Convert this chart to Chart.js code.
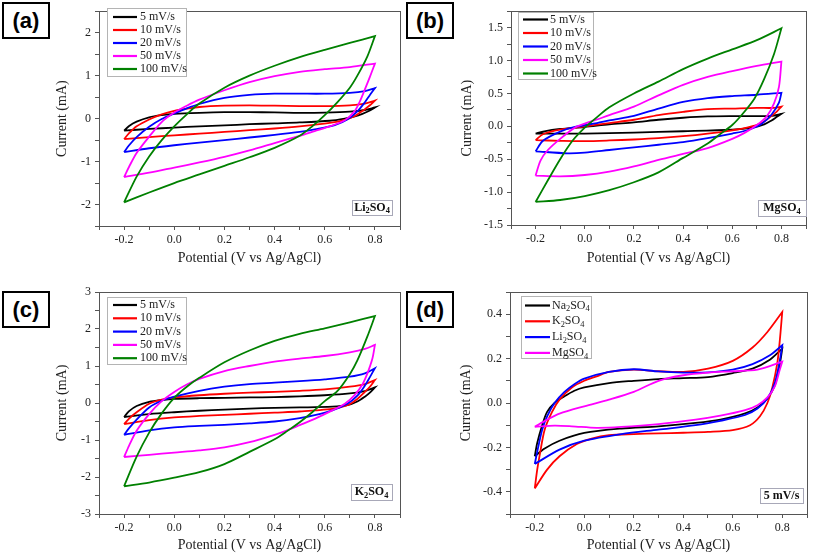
<!DOCTYPE html>
<html>
<head>
<meta charset="utf-8">
<script src="https://cdn.jsdelivr.net/npm/chart.js@4.4.1/dist/chart.umd.min.js"></script>
<style>
  body { margin: 0; background: #fff; }
  #page { position: relative; width: 813px; height: 557px; overflow: hidden; }
  .panel { position: absolute; }
  .tag {
    position: absolute; width: 44px; height: 33px; border: 2px solid #000; background: #fff;
    font: bold 22px 'Liberation Sans', Arial, sans-serif; text-align: center; line-height: 33px;
  }
</style>
</head>
<body>
<div id="page">
  <div class="panel" style="left:0;top:0"><canvas id="chartA" width="406" height="278"></canvas></div>
  <div class="panel" style="left:406px;top:0"><canvas id="chartB" width="407" height="278"></canvas></div>
  <div class="panel" style="left:0;top:278px"><canvas id="chartC" width="406" height="279"></canvas></div>
  <div class="panel" style="left:406px;top:278px"><canvas id="chartD" width="407" height="279"></canvas></div>
  <div class="tag" style="left:2px;top:2px">(a)</div>
  <div class="tag" style="left:406px;top:2px">(b)</div>
  <div class="tag" style="left:2px;top:291px">(c)</div>
  <div class="tag" style="left:406px;top:291px">(d)</div>
</div>
<script>
'use strict';

// labels
let scanRates = ['5 mV/s', '10 mV/s', '20 mV/s', '50 mV/s', '100 mV/s'];
let electrolytes = ['Na_2SO_4', 'K_2SO_4', 'Li_2SO_4', 'MgSO_4'];
let seriesColors = ['#000000', '#ff0000', '#0000ff', '#ff00ff', '#008000'];
let xTitle = 'Potential (V vs Ag/AgCl)';
let yTitle = 'Current (mA)';

// (a) Li2SO4 - [potential V, current mA], anodic sweep then cathodic sweep
let li5 = [[-0.2,-0.28],[-0.18,-0.17],[-0.15,-0.07],[-0.1,0.03],[-0.05,0.08],[0.0,0.11],[0.1,0.135],[0.2,0.15],[0.3,0.15],[0.4,0.145],[0.5,0.135],[0.6,0.14],[0.7,0.16],[0.76,0.2],[0.8,0.26],
  [0.8,0.26],[0.78,0.19],[0.75,0.11],[0.72,0.05],[0.68,0.0],[0.62,-0.05],[0.5,-0.09],[0.4,-0.11],[0.3,-0.13],[0.2,-0.16],[0.1,-0.18],[0.0,-0.21],[-0.1,-0.24],[-0.2,-0.28]];
let li10 = [[-0.2,-0.48],[-0.18,-0.34],[-0.15,-0.18],[-0.1,-0.02],[-0.05,0.1],[0.0,0.18],[0.05,0.23],[0.1,0.27],[0.2,0.3],[0.3,0.31],[0.4,0.3],[0.5,0.29],[0.6,0.29],[0.7,0.31],[0.76,0.35],[0.8,0.42],
  [0.8,0.42],[0.78,0.31],[0.76,0.22],[0.72,0.06],[0.68,-0.03],[0.62,-0.1],[0.5,-0.18],[0.4,-0.23],[0.3,-0.27],[0.2,-0.31],[0.1,-0.35],[0.0,-0.39],[-0.1,-0.43],[-0.2,-0.48]];
let li20 = [[-0.2,-0.78],[-0.18,-0.62],[-0.15,-0.43],[-0.1,-0.19],[-0.05,-0.01],[0.0,0.12],[0.05,0.24],[0.1,0.34],[0.2,0.48],[0.3,0.55],[0.4,0.58],[0.5,0.58],[0.6,0.58],[0.7,0.6],[0.76,0.64],[0.8,0.71],
  [0.8,0.71],[0.78,0.55],[0.76,0.38],[0.73,0.17],[0.69,-0.02],[0.64,-0.15],[0.56,-0.25],[0.5,-0.31],[0.4,-0.38],[0.3,-0.44],[0.2,-0.5],[0.1,-0.56],[0.0,-0.62],[-0.1,-0.69],[-0.2,-0.78]];
let li50 = [[-0.2,-1.36],[-0.18,-1.12],[-0.15,-0.8],[-0.1,-0.42],[-0.05,-0.08],[0.0,0.14],[0.05,0.3],[0.1,0.44],[0.2,0.66],[0.3,0.85],[0.4,0.99],[0.5,1.09],[0.6,1.15],[0.7,1.2],[0.8,1.28],
  [0.8,1.28],[0.78,0.97],[0.76,0.68],[0.74,0.4],[0.72,0.18],[0.68,-0.04],[0.62,-0.18],[0.56,-0.29],[0.5,-0.4],[0.4,-0.57],[0.3,-0.74],[0.2,-0.89],[0.1,-1.02],[0.0,-1.14],[-0.1,-1.26],[-0.2,-1.36]];
let li100 = [[-0.2,-1.95],[-0.15,-1.35],[-0.1,-0.88],[-0.05,-0.5],[0.0,-0.18],[0.05,0.1],[0.1,0.35],[0.2,0.72],[0.3,1.0],[0.4,1.23],[0.5,1.43],[0.6,1.6],[0.7,1.76],[0.8,1.92],
  [0.8,1.92],[0.77,1.45],[0.73,1.0],[0.7,0.72],[0.65,0.38],[0.6,0.08],[0.55,-0.18],[0.5,-0.4],[0.4,-0.68],[0.3,-0.9],[0.2,-1.1],[0.1,-1.3],[0.0,-1.5],[-0.1,-1.72],[-0.2,-1.95]];

// (b) MgSO4
let mg5 = [[-0.2,-0.11],[-0.17,-0.08],[-0.1,-0.04],[0.0,-0.01],[0.1,0.03],[0.2,0.06],[0.3,0.1],[0.4,0.13],[0.5,0.15],[0.6,0.155],[0.7,0.155],[0.76,0.16],[0.8,0.19],
  [0.8,0.19],[0.78,0.14],[0.76,0.09],[0.73,0.03],[0.68,-0.02],[0.6,-0.05],[0.4,-0.075],[0.2,-0.095],[0.0,-0.11],[-0.1,-0.11],[-0.2,-0.11]];
let mg10 = [[-0.2,-0.21],[-0.17,-0.12],[-0.1,-0.05],[0.0,0.0],[0.1,0.05],[0.2,0.1],[0.3,0.17],[0.4,0.22],[0.5,0.26],[0.6,0.27],[0.7,0.28],[0.77,0.28],[0.8,0.3],
  [0.8,0.3],[0.78,0.22],[0.75,0.13],[0.72,0.05],[0.66,-0.02],[0.6,-0.06],[0.5,-0.11],[0.4,-0.15],[0.3,-0.18],[0.2,-0.2],[0.1,-0.215],[0.0,-0.225],[-0.1,-0.22],[-0.2,-0.21]];
let mg20 = [[-0.2,-0.38],[-0.17,-0.22],[-0.1,-0.08],[-0.04,-0.01],[0.05,0.05],[0.1,0.09],[0.2,0.16],[0.3,0.27],[0.4,0.37],[0.5,0.43],[0.6,0.46],[0.7,0.48],[0.8,0.51],
  [0.8,0.51],[0.79,0.36],[0.76,0.18],[0.72,0.04],[0.66,-0.06],[0.6,-0.11],[0.5,-0.18],[0.4,-0.24],[0.3,-0.28],[0.2,-0.32],[0.1,-0.36],[0.0,-0.4],[-0.07,-0.41],[-0.2,-0.38]];
let mg50 = [[-0.2,-0.75],[-0.18,-0.52],[-0.15,-0.36],[-0.1,-0.19],[-0.04,-0.02],[0.0,0.04],[0.07,0.13],[0.1,0.17],[0.2,0.3],[0.3,0.47],[0.4,0.63],[0.5,0.75],[0.6,0.84],[0.7,0.92],[0.8,0.985],
  [0.8,0.985],[0.79,0.6],[0.77,0.35],[0.74,0.15],[0.7,0.02],[0.65,-0.1],[0.6,-0.19],[0.5,-0.33],[0.4,-0.42],[0.3,-0.51],[0.2,-0.61],[0.1,-0.69],[0.0,-0.74],[-0.1,-0.76],[-0.2,-0.75]];
let mg100 = [[-0.2,-1.15],[-0.15,-0.82],[-0.1,-0.5],[-0.05,-0.22],[0.0,-0.02],[0.05,0.14],[0.1,0.29],[0.2,0.5],[0.3,0.68],[0.4,0.87],[0.5,1.03],[0.6,1.17],[0.7,1.31],[0.8,1.49],
  [0.8,1.49],[0.77,1.1],[0.73,0.72],[0.69,0.42],[0.64,0.18],[0.6,0.02],[0.55,-0.12],[0.5,-0.26],[0.4,-0.48],[0.3,-0.7],[0.2,-0.85],[0.1,-0.97],[0.0,-1.06],[-0.1,-1.12],[-0.2,-1.15]];

// (c) K2SO4
let k5 = [[-0.2,-0.38],[-0.18,-0.22],[-0.15,-0.08],[-0.1,0.03],[-0.05,0.08],[0.0,0.11],[0.1,0.13],[0.2,0.14],[0.3,0.15],[0.4,0.16],[0.5,0.18],[0.6,0.21],[0.7,0.26],[0.76,0.32],[0.8,0.42],
  [0.8,0.42],[0.78,0.28],[0.76,0.17],[0.73,0.04],[0.69,-0.06],[0.63,-0.1],[0.5,-0.12],[0.4,-0.13],[0.3,-0.15],[0.2,-0.18],[0.1,-0.21],[0.0,-0.25],[-0.1,-0.3],[-0.2,-0.38]];
let k10 = [[-0.2,-0.57],[-0.18,-0.42],[-0.15,-0.25],[-0.1,-0.02],[-0.05,0.09],[0.0,0.15],[0.1,0.21],[0.2,0.25],[0.3,0.28],[0.4,0.3],[0.5,0.33],[0.6,0.37],[0.7,0.44],[0.76,0.51],[0.8,0.62],
  [0.8,0.62],[0.78,0.44],[0.76,0.3],[0.73,0.11],[0.69,-0.06],[0.63,-0.16],[0.56,-0.2],[0.5,-0.23],[0.4,-0.26],[0.3,-0.29],[0.2,-0.32],[0.1,-0.35],[0.0,-0.39],[-0.1,-0.46],[-0.2,-0.57]];
let k20 = [[-0.2,-0.86],[-0.18,-0.68],[-0.15,-0.45],[-0.1,-0.12],[-0.05,0.06],[0.0,0.17],[0.1,0.33],[0.2,0.44],[0.3,0.51],[0.4,0.55],[0.5,0.59],[0.6,0.64],[0.7,0.71],[0.76,0.8],[0.8,0.94],
  [0.8,0.94],[0.78,0.7],[0.76,0.47],[0.73,0.2],[0.69,-0.02],[0.63,-0.2],[0.56,-0.33],[0.5,-0.41],[0.4,-0.5],[0.3,-0.55],[0.2,-0.59],[0.1,-0.62],[0.0,-0.66],[-0.1,-0.74],[-0.2,-0.86]];
let k50 = [[-0.2,-1.46],[-0.18,-1.15],[-0.15,-0.75],[-0.1,-0.3],[-0.05,0.05],[0.0,0.3],[0.05,0.5],[0.1,0.65],[0.2,0.86],[0.3,1.0],[0.4,1.12],[0.5,1.2],[0.6,1.27],[0.7,1.37],[0.76,1.46],[0.8,1.57],
  [0.8,1.57],[0.79,1.2],[0.77,0.8],[0.75,0.5],[0.72,0.22],[0.68,-0.02],[0.63,-0.2],[0.56,-0.43],[0.5,-0.6],[0.45,-0.74],[0.4,-0.86],[0.3,-1.06],[0.2,-1.2],[0.1,-1.28],[0.0,-1.34],[-0.1,-1.4],[-0.2,-1.46]];
let k100 = [[-0.2,-2.25],[-0.15,-1.45],[-0.1,-0.8],[-0.05,-0.28],[0.0,0.14],[0.05,0.44],[0.1,0.68],[0.2,1.1],[0.3,1.42],[0.4,1.68],[0.5,1.87],[0.6,2.02],[0.7,2.18],[0.8,2.35],
  [0.8,2.35],[0.77,1.8],[0.73,1.15],[0.7,0.78],[0.65,0.32],[0.6,0.05],[0.55,-0.25],[0.5,-0.52],[0.45,-0.76],[0.4,-0.98],[0.3,-1.32],[0.2,-1.65],[0.1,-1.87],[0.0,-2.02],[-0.1,-2.15],[-0.2,-2.25]];

// (d) all electrolytes at 5 mV/s
let na5mv = [[-0.2,-0.24],[-0.19,-0.18],[-0.17,-0.1],[-0.15,-0.04],[-0.12,0.0],[-0.08,0.03],[-0.04,0.055],[0.0,0.07],[0.1,0.09],[0.2,0.1],[0.3,0.108],[0.4,0.112],[0.5,0.117],[0.6,0.135],[0.68,0.155],[0.75,0.195],[0.8,0.245],
  [0.8,0.245],[0.79,0.175],[0.77,0.08],[0.74,0.02],[0.7,-0.02],[0.65,-0.047],[0.55,-0.075],[0.45,-0.09],[0.3,-0.105],[0.15,-0.115],[0.0,-0.135],[-0.1,-0.17],[-0.16,-0.205],[-0.2,-0.24]];
let k5mv = [[-0.2,-0.385],[-0.19,-0.3],[-0.18,-0.235],[-0.16,-0.12],[-0.13,-0.04],[-0.1,0.015],[-0.05,0.07],[0.0,0.1],[0.05,0.12],[0.1,0.14],[0.2,0.15],[0.3,0.143],[0.4,0.14],[0.5,0.155],[0.6,0.19],[0.68,0.25],[0.74,0.32],[0.8,0.41],
  [0.8,0.41],[0.79,0.28],[0.78,0.18],[0.76,0.07],[0.74,0.0],[0.71,-0.06],[0.67,-0.1],[0.6,-0.122],[0.5,-0.13],[0.4,-0.134],[0.3,-0.137],[0.2,-0.14],[0.1,-0.145],[0.03,-0.16],[-0.03,-0.185],[-0.1,-0.24],[-0.15,-0.3],[-0.2,-0.385]];
let li5mv = [[-0.2,-0.275],[-0.19,-0.22],[-0.17,-0.12],[-0.15,-0.06],[-0.12,0.0],[-0.08,0.05],[-0.04,0.085],[0.0,0.11],[0.1,0.14],[0.2,0.152],[0.3,0.142],[0.4,0.137],[0.5,0.138],[0.6,0.15],[0.68,0.175],[0.75,0.215],[0.8,0.26],
  [0.8,0.26],[0.79,0.19],[0.77,0.09],[0.74,0.02],[0.7,-0.025],[0.65,-0.054],[0.55,-0.08],[0.45,-0.1],[0.3,-0.12],[0.15,-0.14],[0.0,-0.17],[-0.1,-0.21],[-0.2,-0.275]];
let mg5mv = [[-0.2,-0.107],[-0.15,-0.075],[-0.1,-0.048],[0.0,-0.015],[0.1,0.015],[0.2,0.05],[0.3,0.1],[0.4,0.125],[0.5,0.137],[0.6,0.143],[0.7,0.15],[0.8,0.186],
  [0.8,0.186],[0.79,0.15],[0.77,0.075],[0.74,0.025],[0.7,-0.01],[0.65,-0.032],[0.55,-0.057],[0.45,-0.075],[0.3,-0.095],[0.15,-0.108],[0.05,-0.112],[-0.05,-0.105],[-0.12,-0.102],[-0.2,-0.107]];

let serif = "'Liberation Serif', 'Times New Roman', serif";

// draws text where "_2" means subscript 2
function drawRich(ctx, text, x, y, size, bold, align) {
  let parts = text.split(/(_\d)/).filter(p => p !== '');
  let weight = bold ? 'bold ' : '';
  let total = 0;
  parts.forEach(p => {
    let sub = p[0] === '_';
    ctx.font = weight + (sub ? size * 0.7 : size) + 'px ' + serif;
    total += ctx.measureText(sub ? p.slice(1) : p).width;
  });
  let cx = align === 'center' ? x - total / 2 : x;
  ctx.textBaseline = 'middle';
  ctx.textAlign = 'left';
  parts.forEach(p => {
    let sub = p[0] === '_';
    let t = sub ? p.slice(1) : p;
    ctx.font = weight + (sub ? size * 0.7 : size) + 'px ' + serif;
    ctx.fillText(t, cx, sub ? y + size * 0.3 : y);
    cx += ctx.measureText(t).width;
  });
}

const frameAndLegend = {
  id: 'frameAndLegend',
  afterDraw(chart, args, opts) {
    let ctx = chart.ctx;
    let a = chart.chartArea;
    ctx.save();
    ctx.strokeStyle = '#555';
    ctx.lineWidth = 1;
    ctx.strokeRect(Math.round(a.left) + 0.5, Math.round(a.top) + 0.5, Math.round(a.right - a.left), Math.round(a.bottom - a.top));

    let lg = opts.legend;
    ctx.fillStyle = '#fff';
    ctx.fillRect(lg.x, lg.y, lg.w, lg.h);
    ctx.strokeStyle = '#b4b4b4';
    ctx.strokeRect(lg.x + 0.5, lg.y + 0.5, lg.w, lg.h);
    chart.data.datasets.forEach((ds, i) => {
      let y = lg.row0 + i * lg.dy;
      ctx.strokeStyle = ds.borderColor;
      ctx.lineWidth = 2.2;
      ctx.beginPath();
      ctx.moveTo(lg.x1, y);
      ctx.lineTo(lg.x2, y);
      ctx.stroke();
      ctx.fillStyle = '#222';
      drawRich(ctx, ds.label, lg.tx, y, 12, false, 'left');
    });

    let tg = opts.tag;
    ctx.fillStyle = '#fff';
    ctx.fillRect(tg.x, tg.y, tg.w, tg.h);
    ctx.strokeStyle = '#a8a8b8';
    ctx.lineWidth = 1;
    ctx.strokeRect(tg.x + 0.5, tg.y + 0.5, tg.w, tg.h);
    ctx.fillStyle = '#111';
    drawRich(ctx, tg.text, tg.x + tg.w / 2, tg.y + tg.h / 2, 12, true, 'center');
    ctx.restore();
  }
};

function makeChart(id, labels, seriesList, colors, s) {
  let datasets = seriesList.map((pts, i) => ({
    label: labels[i],
    data: pts.map(p => ({ x: p[0], y: p[1] })),
    borderColor: colors[i],
    backgroundColor: colors[i],
    borderWidth: 1.8,
    pointRadius: 0,
    showLine: true,
    fill: false,
    tension: 0.3,
    order: seriesList.length - i
  }));
  return new Chart(document.getElementById(id), {
    type: 'scatter',
    data: { datasets: datasets },
    plugins: [frameAndLegend],
    options: {
      responsive: false,
      animation: false,
      layout: { padding: { top: s.padTop, right: s.padRight, left: 0, bottom: 0 } },
      plugins: {
        legend: { display: false },
        tooltip: { enabled: false },
        frameAndLegend: { legend: s.legend, tag: s.tag }
      },
      scales: {
        x: {
          type: 'linear', min: -0.3, max: 0.9,
          afterFit: sc => { sc.height = s.xHeight; },
          border: { color: '#555' },
          grid: { drawOnChartArea: false, tickLength: 4, tickColor: '#555' },
          ticks: {
            stepSize: 0.1, autoSkip: false, maxRotation: 0, padding: 3, color: '#222',
            font: { family: serif, size: 12 },
            callback: v => (Math.round(v * 10) % 2 === 0 ? v.toFixed(1) : '')
          },
          title: { display: true, text: xTitle, color: '#222', font: { family: serif, size: 14 }, padding: { top: 0, bottom: s.xTitlePad } }
        },
        y: {
          type: 'linear', min: s.yMin, max: s.yMax,
          afterFit: sc => { sc.width = s.yWidth; },
          border: { color: '#555' },
          grid: { drawOnChartArea: false, tickLength: 4, tickColor: '#555' },
          ticks: {
            stepSize: s.yStep, autoSkip: false, padding: 4, color: '#222',
            font: { family: serif, size: 12 },
            callback: s.yLabel
          },
          title: { display: true, text: yTitle, color: '#222', font: { family: serif, size: 14 }, padding: { top: s.yTitlePad, bottom: 0 } }
        }
      }
    }
  });
}

let intLabel = v => (Math.abs(v % 1) < 1e-9 ? String(v) : '');

makeChart('chartA', scanRates, [li5, li10, li20, li50, li100], seriesColors, {
  padTop: 3, padRight: 6, yWidth: 99, xHeight: 52, xTitlePad: 11, yTitlePad: 54,
  yMin: -2.5, yMax: 2.5, yStep: 0.5, yLabel: intLabel,
  legend: { x: 107, y: 8, w: 79, h: 68, row0: 17, dy: 13, x1: 113, x2: 137, tx: 140 },
  tag: { x: 352, y: 200, w: 40, h: 15, text: 'Li_2SO_4' }
});

makeChart('chartB', scanRates, [mg5, mg10, mg20, mg50, mg100], seriesColors, {
  padTop: 2, padRight: 7, yWidth: 105, xHeight: 53, xTitlePad: 11, yTitlePad: 53,
  yMin: -1.5, yMax: 1.75, yStep: 0.25, yLabel: v => (Math.round(v * 4) % 2 === 0 ? v.toFixed(1) : ''),
  legend: { x: 112, y: 12, w: 75, h: 67, row0: 19.5, dy: 13.5, x1: 117, x2: 142, tx: 144 },
  tag: { x: 352, y: 200, w: 48, h: 16, text: 'MgSO_4' }
});

makeChart('chartC', scanRates, [k5, k10, k20, k50, k100], seriesColors, {
  padTop: 14, padRight: 6, yWidth: 99, xHeight: 43, xTitlePad: 3, yTitlePad: 54,
  yMin: -3, yMax: 3, yStep: 0.5, yLabel: intLabel,
  legend: { x: 107, y: 19, w: 79, h: 67, row0: 27, dy: 13.3, x1: 113, x2: 137, tx: 140 },
  tag: { x: 351, y: 206, w: 41, h: 16, text: 'K_2SO_4' }
});

makeChart('chartD', electrolytes, [na5mv, k5mv, li5mv, mg5mv], ['#000000', '#ff0000', '#0000ff', '#ff00ff'], {
  padTop: 14, padRight: 6, yWidth: 104, xHeight: 43, xTitlePad: 3, yTitlePad: 52,
  yMin: -0.5, yMax: 0.5, yStep: 0.1, yLabel: v => (Math.round(v * 10) % 2 === 0 ? v.toFixed(1) : ''),
  legend: { x: 115, y: 18, w: 70, h: 62, row0: 27.5, dy: 15.8, x1: 119, x2: 144, tx: 146 },
  tag: { x: 354, y: 210, w: 43, h: 15, text: '5 mV/s' }
});
</script>
</body>
</html>
